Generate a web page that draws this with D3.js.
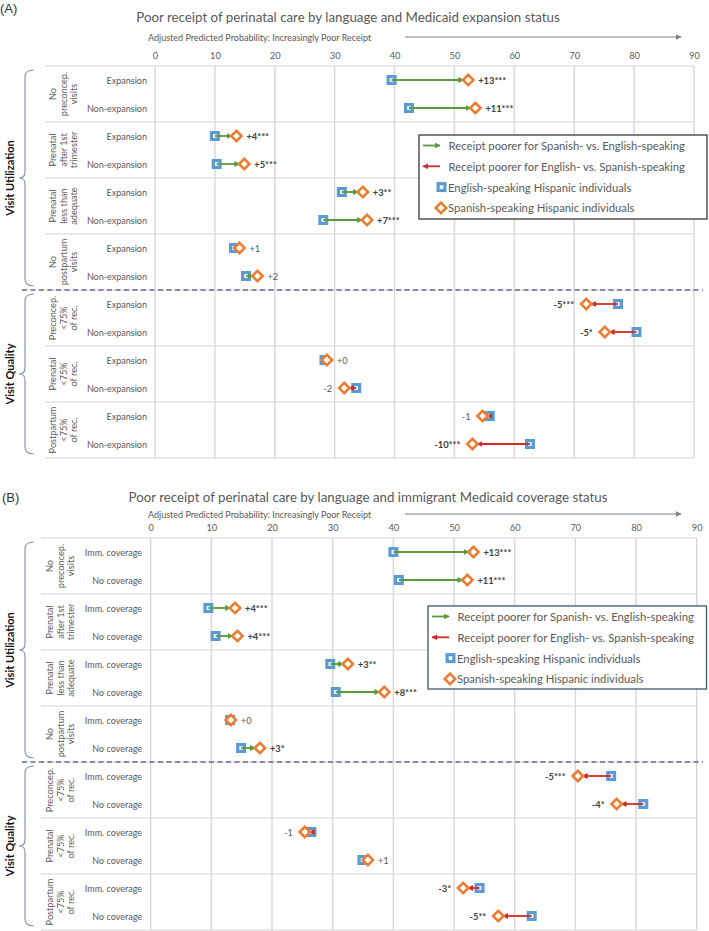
<!DOCTYPE html>
<html><head><meta charset="utf-8">
<script src="https://cdn.jsdelivr.net/npm/d3@7"></script>
<style>body{margin:0;background:#fff}</style>
</head><body>
<svg id="c" width="709" height="931" xmlns="http://www.w3.org/2000/svg"></svg>
<script>
// ---------------- DATA ----------------
const ticks = [0, 10, 20, 30, 40, 50, 60, 70, 80, 90];
const sections = ["Visit Utilization", "Visit Quality"];
const sectionGroups = [4, 3];
const groupLabels = [
  ["No", "preconcep.", "visits"],
  ["Prenatal", "after 1st", "trimester"],
  ["Prenatal", "less than", "adequate"],
  ["No", "postpartum", "visits"],
  ["Preconcep.", "<75%", "of rec."],
  ["Prenatal", "<75%", "of rec."],
  ["Postpartum", "<75%", "of rec."]
];
const rowLabelsA = ["Expansion", "Non-expansion"];
const rowLabelsB = ["Imm. coverage", "No coverage"];
const englishA = [39.5, 42.4, 10.0, 10.3, 31.2, 28.1, 13.2, 15.2, 77.3, 80.4, 28.3, 33.6, 55.9, 62.6];
const spanishA = [52.3, 53.5, 13.6, 14.9, 34.7, 35.4, 14.1, 17.1, 72.0, 75.1, 28.7, 31.6, 54.7, 53.0];
const diffA = ["+13***", "+11***", "+4***", "+5***", "+3**", "+7***", "+1", "+2", "-5***", "-5*", "+0", "-2", "-1", "-10***"];
const englishB = [40.0, 40.9, 9.5, 10.7, 29.6, 30.5, 13.1, 14.9, 75.9, 81.2, 26.5, 34.9, 54.2, 62.8];
const spanishB = [53.2, 52.2, 13.9, 14.3, 32.5, 38.5, 13.2, 18.0, 70.4, 76.8, 25.4, 35.8, 51.5, 57.3];
const diffB = ["+13***", "+11***", "+4***", "+4***", "+3**", "+8***", "+0", "+3*", "-5***", "-4*", "-1", "+1", "-3*", "-5**"];
const titleA = "Poor receipt of perinatal care by language and Medicaid expansion status";
const titleB = "Poor receipt of perinatal care by language and immigrant Medicaid coverage status";
const axisTitle = "Adjusted Predicted Probability: Increasingly Poor Receipt";
const legendLabels = [
  "Receipt poorer for Spanish- vs. English-speaking",
  "Receipt poorer for English- vs. Spanish-speaking",
  "English-speaking Hispanic individuals",
  "Spanish-speaking Hispanic individuals"
];

// ---------------- STYLE ----------------
const BLUE = "#5b9bd5", ORANGE = "#ed7d31", GREEN = "#5a9a3c", RED = "#d42a2a";
const GRID = "#d9d9d9", TXT = "#595959", DARK = "#404040";
const FONT = "Lato, 'Open Sans', sans-serif";

const svg = d3.select("#c");
const defs = svg.append("defs");
function arrowMarker(id, color) {
  defs.append("marker").attr("id", id)
    .attr("viewBox", "0 0 10 10").attr("refX", 9).attr("refY", 5)
    .attr("markerWidth", 6).attr("markerHeight", 6)
    .attr("markerUnits", "userSpaceOnUse").attr("orient", "auto")
    .append("path").attr("d", "M0,0L10,5L0,10z").attr("fill", color);
}
arrowMarker("arG", GREEN);
arrowMarker("arR", RED);
arrowMarker("arAx", "#7f7f7f");

function brace(g, x, y1, y2) {
  const xv = x, xr = x + 9, xt = x - 6, ym = (y1 + y2) / 2;
  const p = `M${xr},${y1} Q${xv},${y1} ${xv},${y1 + 7} L${xv},${ym - 6} Q${xv},${ym} ${xt},${ym} Q${xv},${ym} ${xv},${ym + 6} L${xv},${y2 - 7} Q${xv},${y2} ${xr},${y2}`;
  g.append("path").attr("d", p).attr("fill", "none").attr("stroke", "#8497b0").attr("stroke-width", 1.2);
}

function square(g, cx, cy) {
  g.append("rect").attr("x", cx - 3.4).attr("y", cy - 3.4).attr("width", 6.8).attr("height", 6.8)
    .attr("fill", "#fff").attr("stroke", BLUE).attr("stroke-width", 3.2);
}
function diamond(g, cx, cy) {
  const r = 5.2;
  g.append("path").attr("d", `M${cx - r},${cy}L${cx},${cy - r}L${cx + r},${cy}L${cx},${cy + r}Z`)
    .attr("fill", "#fff").attr("stroke", ORANGE).attr("stroke-width", 2.6).attr("stroke-linejoin", "miter");
}

function panel(cfg) {
  const g = svg.append("g");
  const rowH = 28;
  const nRows = groupLabels.length * 2;
  const x = d3.scaleLinear().domain([0, 90]).range([cfg.x0, cfg.x1]);
  const y = d3.scaleBand().domain(d3.range(nRows)).range([cfg.top, cfg.top + nRows * rowH]);
  const bottom = cfg.top + nRows * rowH;

  // panel letter + title
  g.append("text").attr("x", cfg.letterX).attr("y", cfg.letterY).text(cfg.letter)
    .attr("font-family", "'Liberation Sans', Arial, sans-serif").attr("font-size", 13).attr("fill", "#333");
  g.append("text").attr("x", cfg.titleX).attr("y", cfg.titleY).attr("text-anchor", "middle")
    .attr("dominant-baseline", "central").text(cfg.title)
    .attr("font-family", FONT).attr("font-size", 13.3).attr("fill", TXT);
  // axis title + arrow
  g.append("text").attr("x", 148).attr("y", cfg.subY).attr("dominant-baseline", "central").text(axisTitle)
    .attr("font-family", FONT).attr("font-size", 9).attr("fill", TXT);
  g.append("line").attr("x1", 405).attr("x2", 681).attr("y1", cfg.subY).attr("y2", cfg.subY)
    .attr("stroke", "#7f7f7f").attr("stroke-width", 1.2).attr("marker-end", "url(#arAx)");

  // tick labels via axis
  const ax = g.append("g").attr("transform", `translate(0,${cfg.tickY})`)
    .call(d3.axisTop(x).tickValues(ticks).tickSize(0).tickPadding(0));
  ax.select(".domain").remove();
  ax.selectAll("text").attr("font-family", FONT).attr("font-size", 9.3).attr("fill", TXT)
    .attr("dy", "0.35em");

  // horizontal group separators
  const seps = d3.range(groupLabels.length + 1).map(k => cfg.top + k * 2 * rowH);
  g.selectAll(".hsep").data(seps).join("line")
    .attr("x1", cfg.boxL).attr("x2", cfg.x1).attr("y1", d => d).attr("y2", d => d)
    .attr("stroke", "#e3e3e3").attr("stroke-width", 1.5);
  // vertical gridlines
  g.selectAll(".vg").data(ticks).join("line")
    .attr("x1", d => x(d)).attr("x2", d => x(d)).attr("y1", cfg.top).attr("y2", bottom)
    .attr("stroke", GRID).attr("stroke-width", 1.5);

  // row labels
  const rowLab = d3.range(nRows).map(i => cfg.rowLabels[i % 2]);
  g.selectAll(".rl").data(rowLab).join("text")
    .attr("x", cfg.rowLabelX).attr("y", (d, i) => y(i) + rowH / 2)
    .attr("text-anchor", "end").attr("dominant-baseline", "central").text(d => d)
    .attr("font-family", FONT).attr("font-size", 9).attr("fill", TXT);

  // group labels (rotated)
  groupLabels.forEach((lines, k) => {
    const cy = cfg.top + k * 2 * rowH + rowH;
    const t = g.append("text").attr("transform", `translate(${cfg.groupX},${cy}) rotate(-90)`)
      .attr("text-anchor", "middle").attr("font-family", FONT).attr("font-size", 9.2).attr("fill", TXT);
    lines.forEach((ln, j) => {
      t.append("tspan").attr("x", 0).attr("y", (j - 1) * 10.8).attr("dominant-baseline", "central").text(ln);
    });
  });

  // sections: labels + braces
  let gi = 0;
  sections.forEach((s, si) => {
    const y1 = cfg.top + gi * 2 * rowH;
    gi += sectionGroups[si];
    const y2 = cfg.top + gi * 2 * rowH;
    brace(g, 25, y1 + 4, y2 - 4);
    g.append("text").attr("transform", `translate(9,${(y1 + y2) / 2}) rotate(-90)`)
      .attr("text-anchor", "middle").attr("dominant-baseline", "central").text(s)
      .attr("font-family", FONT).attr("font-weight", "bold").attr("font-size", 11).attr("fill", "#111");
  });
  // dashed divider
  const dy = cfg.top + sectionGroups[0] * 2 * rowH;
  g.append("line").attr("x1", 22).attr("x2", 703).attr("y1", dy).attr("y2", dy)
    .attr("stroke", "#5f6f87").attr("stroke-width", 1.4).attr("stroke-dasharray", "5,3.5");

  // marks
  const rows = d3.range(nRows).map(i => ({ i, e: cfg.english[i], s: cfg.spanish[i], lab: cfg.diff[i] }));
  rows.forEach(r => square(g, x(r.e), y(r.i) + rowH / 2));
  rows.forEach(r => {
    const cy = y(r.i) + rowH / 2;
    const dir = r.s >= r.e ? 1 : -1;
    if (Math.abs(x(r.s) - x(r.e)) > 6) {
      g.append("line").attr("x1", x(r.e)).attr("x2", x(r.s) - dir * 4.5).attr("y1", cy).attr("y2", cy)
        .attr("stroke", dir > 0 ? GREEN : RED).attr("stroke-width", 1.8)
        .attr("marker-end", dir > 0 ? "url(#arG)" : "url(#arR)");
    }
  });
  rows.forEach(r => diamond(g, x(r.s), y(r.i) + rowH / 2));
  rows.forEach(r => {
    const cy = y(r.i) + rowH / 2;
    const pos = r.lab[0] === "+";
    const sig = r.lab.indexOf("*") >= 0;
    g.append("text").attr("x", x(r.s) + (pos ? 10 : -12)).attr("y", cy)
      .attr("text-anchor", pos ? "start" : "end").attr("dominant-baseline", "central").text(r.lab)
      .attr("font-family", FONT).attr("font-size", 9.3).attr("font-weight", sig ? "bold" : "normal")
      .attr("fill", sig ? DARK : TXT);
  });

  // legend
  const L = cfg.legend;
  g.append("rect").attr("x", L.x).attr("y", L.y).attr("width", L.w).attr("height", L.h)
    .attr("fill", "#fff").attr("stroke", L.stroke).attr("stroke-width", 1.3);
  const ly = d3.range(4).map(k => L.y + 10.5 + k * 20.8);
  g.append("line").attr("x1", L.x + 4).attr("x2", L.x + 21).attr("y1", ly[0]).attr("y2", ly[0])
    .attr("stroke", GREEN).attr("stroke-width", 1.8).attr("marker-end", "url(#arG)");
  g.append("line").attr("x1", L.x + 21).attr("x2", L.x + 4).attr("y1", ly[1]).attr("y2", ly[1])
    .attr("stroke", RED).attr("stroke-width", 1.8).attr("marker-end", "url(#arR)");
  square(g, L.x + 22.5, ly[2]);
  diamond(g, L.x + 22, ly[3]);
  legendLabels.forEach((t, k) => {
    g.append("text").attr("x", L.x + (k < 2 ? 29.5 : 29)).attr("y", ly[k]).attr("dominant-baseline", "central").text(t)
      .attr("font-family", FONT).attr("font-size", 11.3).attr("fill", TXT);
  });
}

panel({
  letter: "(A)", letterX: 0, letterY: 13, title: titleA, titleX: 348, titleY: 17,
  subY: 37, tickY: 56, top: 66, x0: 155, x1: 694, boxL: 45, rowLabelX: 147, groupX: 63,
  rowLabels: rowLabelsA, english: englishA, spanish: spanishA, diff: diffA,
  legend: { x: 419, y: 135, w: 288, h: 84, stroke: "#3a3a3a" }
});
panel({
  letter: "(B)", letterX: 2, letterY: 502, title: titleB, titleX: 368, titleY: 497,
  subY: 514, tickY: 528, top: 538, x0: 150.7, x1: 696.7, boxL: 41, rowLabelX: 142, groupX: 60,
  rowLabels: rowLabelsB, english: englishB, spanish: spanishB, diff: diffB,
  legend: { x: 428, y: 606, w: 278.5, h: 83, stroke: "#44546a" }
});
</script>
</body></html>
